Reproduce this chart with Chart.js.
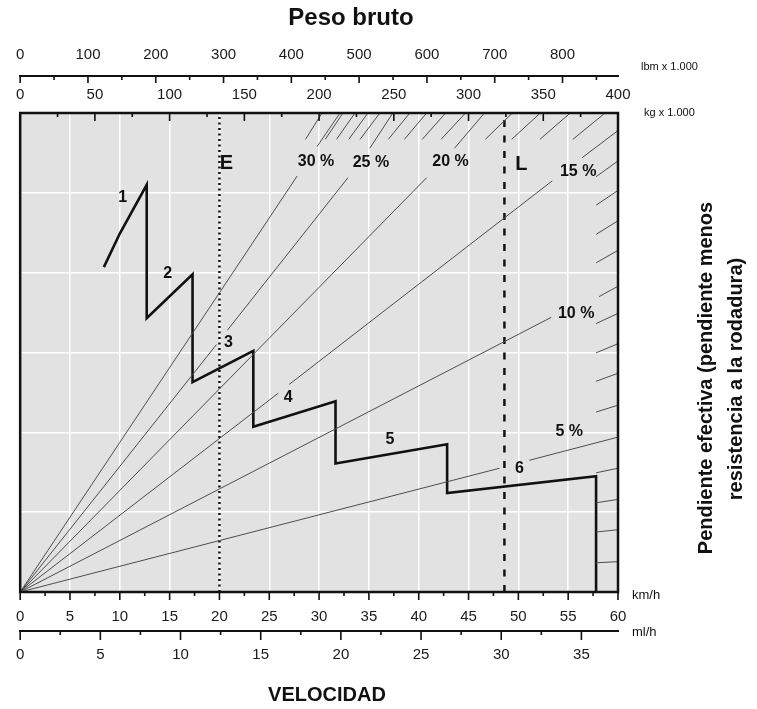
<!DOCTYPE html>
<html>
<head>
<meta charset="utf-8">
<script src="https://cdn.jsdelivr.net/npm/chart.js@4.4.1/dist/chart.umd.min.js"></script>
<style>
  html, body { margin: 0; padding: 0; background: #fff; }
  #wrap { width: 757px; height: 709px; position: relative; }
</style>
</head>
<body>
<div id="wrap"><canvas id="chart"></canvas></div>
<script>
// Escalas (marcas principales y secundarias)
const kmhTicks = [0, 5, 10, 15, 20, 25, 30, 35, 40, 45, 50, 55, 60];
const kmhMinor = [2.5, 7.5, 12.5, 17.5, 22.5, 27.5, 32.5, 37.5, 42.5, 47.5, 52.5, 57.5];
const mphTicks = [0, 5, 10, 15, 20, 25, 30, 35];
const mphMinor = [2.5, 7.5, 12.5, 17.5, 22.5, 27.5, 32.5];
const kgTicks = [0, 50, 100, 150, 200, 250, 300, 350, 400];
const kgMinor = [25, 75, 125, 175, 225, 275, 325, 375];
const lbmTicks = [0, 100, 200, 300, 400, 500, 600, 700, 800];
const lbmMinor = [50, 150, 250, 350, 450, 550, 650, 750, 850];
const pullTicks = [0, 1, 2, 3, 4, 5, 6];

// Curva de fuerza en las ruedas (marchas 1 a 6)
const rimpullSpeed = [8.4, 10.0, 12.7, 12.7, 17.3, 17.3, 23.4, 23.4, 31.65, 31.65, 42.85, 42.85, 57.8, 57.8];
const rimpullForce = [4.07, 4.49, 5.10, 3.43, 3.98, 2.63, 3.02, 2.07, 2.39, 1.61, 1.85, 1.24, 1.45, 0];
const gearNames = ['1', '2', '3', '4', '5', '6'];
const gearLabelSpeed = [10.3, 14.8, 20.9, 26.9, 37.1, 50.1];
const gearLabelForce = [4.94, 3.99, 3.13, 2.44, 1.91, 1.54];

// Lineas de pendiente (null = hueco para la etiqueta)
const grade30 = [[0, 0], [27.8, 5.21], null, [29.8, 5.58], [32.1, 6]];
const grade25 = [[0, 0], [19.7, 3.10], null, [20.8, 3.28], [32.9, 5.19], null, [35.1, 5.56], [37.4, 6]];
const grade20 = [[0, 0], [40.8, 5.19], null, [43.6, 5.56], [46.6, 6]];
const grade15 = [[0, 0], [25.9, 2.49], null, [27.0, 2.60], [53.4, 5.15], null, [56.4, 5.44], [60, 5.78]];
const grade10 = [[0, 0], [53.3, 3.44], null, [58.1, 3.70], [60, 3.83]];
const grade05 = [[0, 0], [48.1, 1.55], null, [51.1, 1.65], [60, 1.94]];
const gradeNames = ['30 %', '25 %', '20 %', '15 %', '10 %', '5 %'];
const gradeLabelSpeed = [29.7, 35.2, 43.2, 56.0, 55.8, 55.1];
const gradeLabelForce = [5.39, 5.38, 5.39, 5.27, 3.49, 2.01];

// Marcas cortas de pendiente en los bordes
const topHatchSpeed = [30.3, 32.4, 33.6, 34.9, 36.1, 39.1, 40.8, 42.7, 44.7, 49.4, 52.2, 55.2, 58.7];
const rightHatchForce = [5.40, 5.03, 4.65, 4.28, 3.49, 3.11, 2.74, 2.34, 1.55, 1.16, 0.78, 0.38];

// Velocidades de referencia E y L
const speedE = 20;
const speedL = 48.6;

const FONT = '"Liberation Sans", Arial, Helvetica, sans-serif';
Chart.defaults.font.family = FONT;
Chart.defaults.color = '#1a1a1a';

function toXY(points) {
    let lastX = 0;
    return points.map(p => {
        if (!p) return { x: lastX, y: null };
        lastX = p[0];
        return { x: p[0], y: p[1] };
    });
}

function hatchTop() {
    const low = 5.67;
    const out = [];
    topHatchSpeed.forEach(s => {
        out.push({ x: s, y: 6 }, { x: s * low / 6, y: low }, { x: s, y: null });
    });
    return out;
}

function hatchRight() {
    const start = 57.8;
    const out = [];
    rightHatchForce.forEach(f => {
        out.push({ x: 60, y: f }, { x: start, y: f * start / 60 }, { x: 60, y: null });
    });
    return out;
}

const thin = { borderColor: '#4d4d4d', borderWidth: 1, pointRadius: 0, spanGaps: false, tension: 0 };

const datasets = [
    ...[grade30, grade25, grade20, grade15, grade10, grade05].map(g => ({ ...thin, data: toXY(g) })),
    { ...thin, data: hatchTop() },
    { ...thin, data: hatchRight() },
    {
        data: [{ x: speedE, y: 0 }, { x: speedE, y: 6 }],
        borderColor: '#111', borderWidth: 2.5, borderDash: [2, 3.5], pointRadius: 0
    },
    {
        data: [{ x: speedL, y: 0 }, { x: speedL, y: 6 }],
        borderColor: '#111', borderWidth: 2.5, borderDash: [7, 8.5], pointRadius: 0
    },
    {
        data: rimpullSpeed.map((s, i) => ({ x: s, y: rimpullForce[i] })),
        borderColor: '#111', borderWidth: 2.6, pointRadius: 0, tension: 0, borderJoinStyle: 'miter'
    }
];

function drawTicks(ctx, scale, major, minor, y0, lenMajor, lenMinor) {
    ctx.beginPath();
    major.forEach(v => {
        const px = scale.getPixelForValue(v);
        ctx.moveTo(px, y0);
        ctx.lineTo(px, y0 + lenMajor);
    });
    minor.forEach(v => {
        const px = scale.getPixelForValue(v);
        ctx.moveTo(px, y0);
        ctx.lineTo(px, y0 + lenMinor);
    });
    ctx.stroke();
}

function text(ctx, str, x, y, font, align) {
    ctx.font = font;
    ctx.textAlign = align || 'center';
    ctx.textBaseline = 'middle';
    ctx.fillText(str, x, y);
}

const decoPlugin = {
    id: 'deco',
    beforeDraw(chart) {
        const { ctx, chartArea: a } = chart;
        ctx.save();
        ctx.fillStyle = '#e2e2e2';
        ctx.fillRect(a.left, a.top, a.right - a.left, a.bottom - a.top);
        ctx.restore();
    },
    afterDraw(chart) {
        const { ctx, chartArea: a, scales } = chart;
        const sx = scales.x, sy = scales.y;
        ctx.save();
        ctx.strokeStyle = '#111';
        ctx.fillStyle = '#111';

        // marco
        ctx.lineWidth = 2.5;
        ctx.strokeRect(a.left, a.top, a.right - a.left, a.bottom - a.top);

        // marcas de los ejes
        ctx.lineWidth = 1.6;
        drawTicks(ctx, sx, kmhTicks, kmhMinor, a.bottom, 8, 4);
        drawTicks(ctx, scales.x2, mphTicks, mphMinor, scales.x2.top, 9, 4);
        drawTicks(ctx, scales.kg, kgTicks, kgMinor, a.top, 8, 4);
        drawTicks(ctx, scales.lbm, lbmTicks, lbmMinor, scales.lbm.bottom, 7, 4);

        // etiquetas dentro del grafico
        gradeNames.forEach((t, i) => {
            text(ctx, t, sx.getPixelForValue(gradeLabelSpeed[i]), sy.getPixelForValue(gradeLabelForce[i]), 'bold 16px ' + FONT);
        });
        gearNames.forEach((t, i) => {
            text(ctx, t, sx.getPixelForValue(gearLabelSpeed[i]), sy.getPixelForValue(gearLabelForce[i]), 'bold 16px ' + FONT);
        });
        text(ctx, 'E', sx.getPixelForValue(speedE) + 7, sy.getPixelForValue(5.37), 'bold 20px ' + FONT);
        text(ctx, 'L', sx.getPixelForValue(speedL) + 17, sy.getPixelForValue(5.36), 'bold 20px ' + FONT);

        // titulos y unidades
        text(ctx, 'Peso bruto', 351, 18, 'bold 24px ' + FONT);
        text(ctx, 'VELOCIDAD', 327, 695, 'bold 20px ' + FONT);
        text(ctx, 'lbm x 1.000', 641, 67, '11px ' + FONT, 'left');
        text(ctx, 'kg x 1.000', 644, 113, '11px ' + FONT, 'left');
        text(ctx, 'km/h', 632, 595, '13px ' + FONT, 'left');
        text(ctx, 'ml/h', 632, 632, '13px ' + FONT, 'left');

        ctx.save();
        ctx.translate(706, 378);
        ctx.rotate(-Math.PI / 2);
        text(ctx, 'Pendiente efectiva (pendiente menos', 0, 0, 'bold 20px ' + FONT);
        ctx.restore();
        ctx.save();
        ctx.translate(736, 379);
        ctx.rotate(-Math.PI / 2);
        text(ctx, 'resistencia a la rodadura)', 0, 0, 'bold 20px ' + FONT);
        ctx.restore();

        ctx.restore();
    }
};

const tickFont = { size: 15, family: FONT };

new Chart(document.getElementById('chart'), {
    type: 'line',
    data: { datasets },
    options: {
        responsive: true,
        maintainAspectRatio: false,
        animation: false,
        layout: { padding: { left: 19, right: 139, top: 36, bottom: 38 } },
        plugins: { legend: { display: false }, tooltip: { enabled: false } },
        scales: {
            x: {
                type: 'linear', position: 'bottom', weight: 0, min: 0, max: 60,
                afterBuildTicks: s => { s.ticks = kmhTicks.map(v => ({ value: v })); },
                afterFit: s => { s.height = 39; },
                ticks: { font: tickFont, padding: 16, maxRotation: 0, autoSkip: false },
                grid: { color: '#ffffff', lineWidth: 1.5, drawTicks: false },
                border: { display: false }
            },
            x2: {
                type: 'linear', position: 'bottom', weight: 1, min: 0, max: 60 / 1.609344,
                afterBuildTicks: s => { s.ticks = mphTicks.map(v => ({ value: v })); },
                afterFit: s => { s.height = 40; },
                ticks: { font: tickFont, padding: 15, maxRotation: 0, autoSkip: false },
                grid: { drawOnChartArea: false, drawTicks: false },
                border: { display: true, color: '#111', width: 2 }
            },
            kg: {
                type: 'linear', position: 'top', weight: 0, min: 0, max: 400,
                afterBuildTicks: s => { s.ticks = kgTicks.map(v => ({ value: v })); },
                afterFit: s => { s.height = 37; },
                ticks: { font: tickFont, padding: 9, maxRotation: 0, autoSkip: false },
                grid: { drawOnChartArea: false, drawTicks: false },
                border: { display: false }
            },
            lbm: {
                type: 'linear', position: 'top', weight: 1, min: 0, max: 400 * 2.20462,
                afterBuildTicks: s => { s.ticks = lbmTicks.map(v => ({ value: v })); },
                afterFit: s => { s.height = 40; },
                ticks: { font: tickFont, padding: 12, maxRotation: 0, autoSkip: false },
                grid: { drawOnChartArea: false, drawTicks: false },
                border: { display: true, color: '#111', width: 2 }
            },
            y: {
                type: 'linear', position: 'left', min: 0, max: 6,
                afterBuildTicks: s => { s.ticks = pullTicks.map(v => ({ value: v })); },
                afterFit: s => { s.width = 0; },
                ticks: { display: false },
                grid: { color: '#ffffff', lineWidth: 1.5, drawTicks: false },
                border: { display: false }
            }
        }
    },
    plugins: [decoPlugin]
});
</script>
</body>
</html>
